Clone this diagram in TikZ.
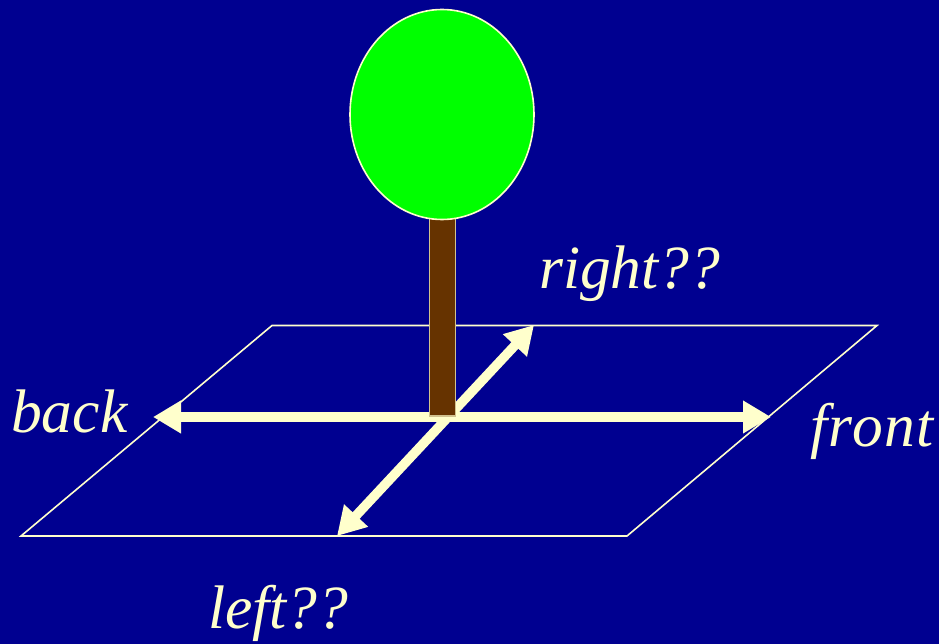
\documentclass[tikz,border=0pt]{standalone}
\usepackage{fontspec}
\setmainfont{Liberation Serif}
\usetikzlibrary{arrows.meta,shapes.geometric}
\definecolor{bgblue}{HTML}{000090}
\definecolor{cream}{HTML}{FFFFCC}
\definecolor{leaf}{HTML}{00FF00}
\definecolor{bark}{HTML}{663300}
\tikzset{
  axisarrow/.style={draw=cream,line width=9.5pt,{Triangle[length=28pt,width=31pt,fill=cream]}-{Triangle[length=28pt,width=31pt,fill=cream]},shorten <=0pt,shorten >=0pt},
  plane/.style={draw=cream,line width=1.6pt,line join=miter},
  label/.style={text=cream,font=\fontsize{61.5}{61.5}\selectfont\itshape,inner sep=0pt,anchor=base west},
  trunk/.style={draw=cream!70!bark,line width=1.2pt,fill=bark,inner sep=0pt,minimum width=26pt,minimum height=198pt},
  crown/.style={ellipse,draw=cream,line width=1.6pt,fill=leaf,inner sep=0pt,minimum width=184pt,minimum height=210pt}
}
\begin{document}
\begin{tikzpicture}[x=1pt,y=-1pt]
\useasboundingbox (0,0) rectangle (939,644);
\fill[bgblue] (0,0) rectangle (939,644);
\coordinate (p1) at (272,325.5);
\coordinate (p2) at (877,325.5);
\coordinate (p3) at (627,536);
\coordinate (p4) at (21,536);
\draw[plane] (p1) -- (p2) -- (p3) -- (p4) -- cycle;
\coordinate (backtip) at (153,417);
\coordinate (fronttip) at (771,417);
\coordinate (righttip) at (534,325);
\coordinate (lefttip) at (337,536);
\draw[axisarrow] (backtip) -- (fronttip);
\draw[axisarrow] (lefttip) -- (righttip);
\node[trunk] (stem) at (442.5,317) {};
\node[crown] (top) at (442,114.5) {};
\node[label] (lback) at (11,432) {back};
\node[label] (lfront) at (810,446.5) {\addfontfeature{LetterSpace=2.5}front};
\node[label] (lright) at (539,288) {right??};
\node[label] (lleft) at (208,628.5) {left??};
\end{tikzpicture}
\end{document}
